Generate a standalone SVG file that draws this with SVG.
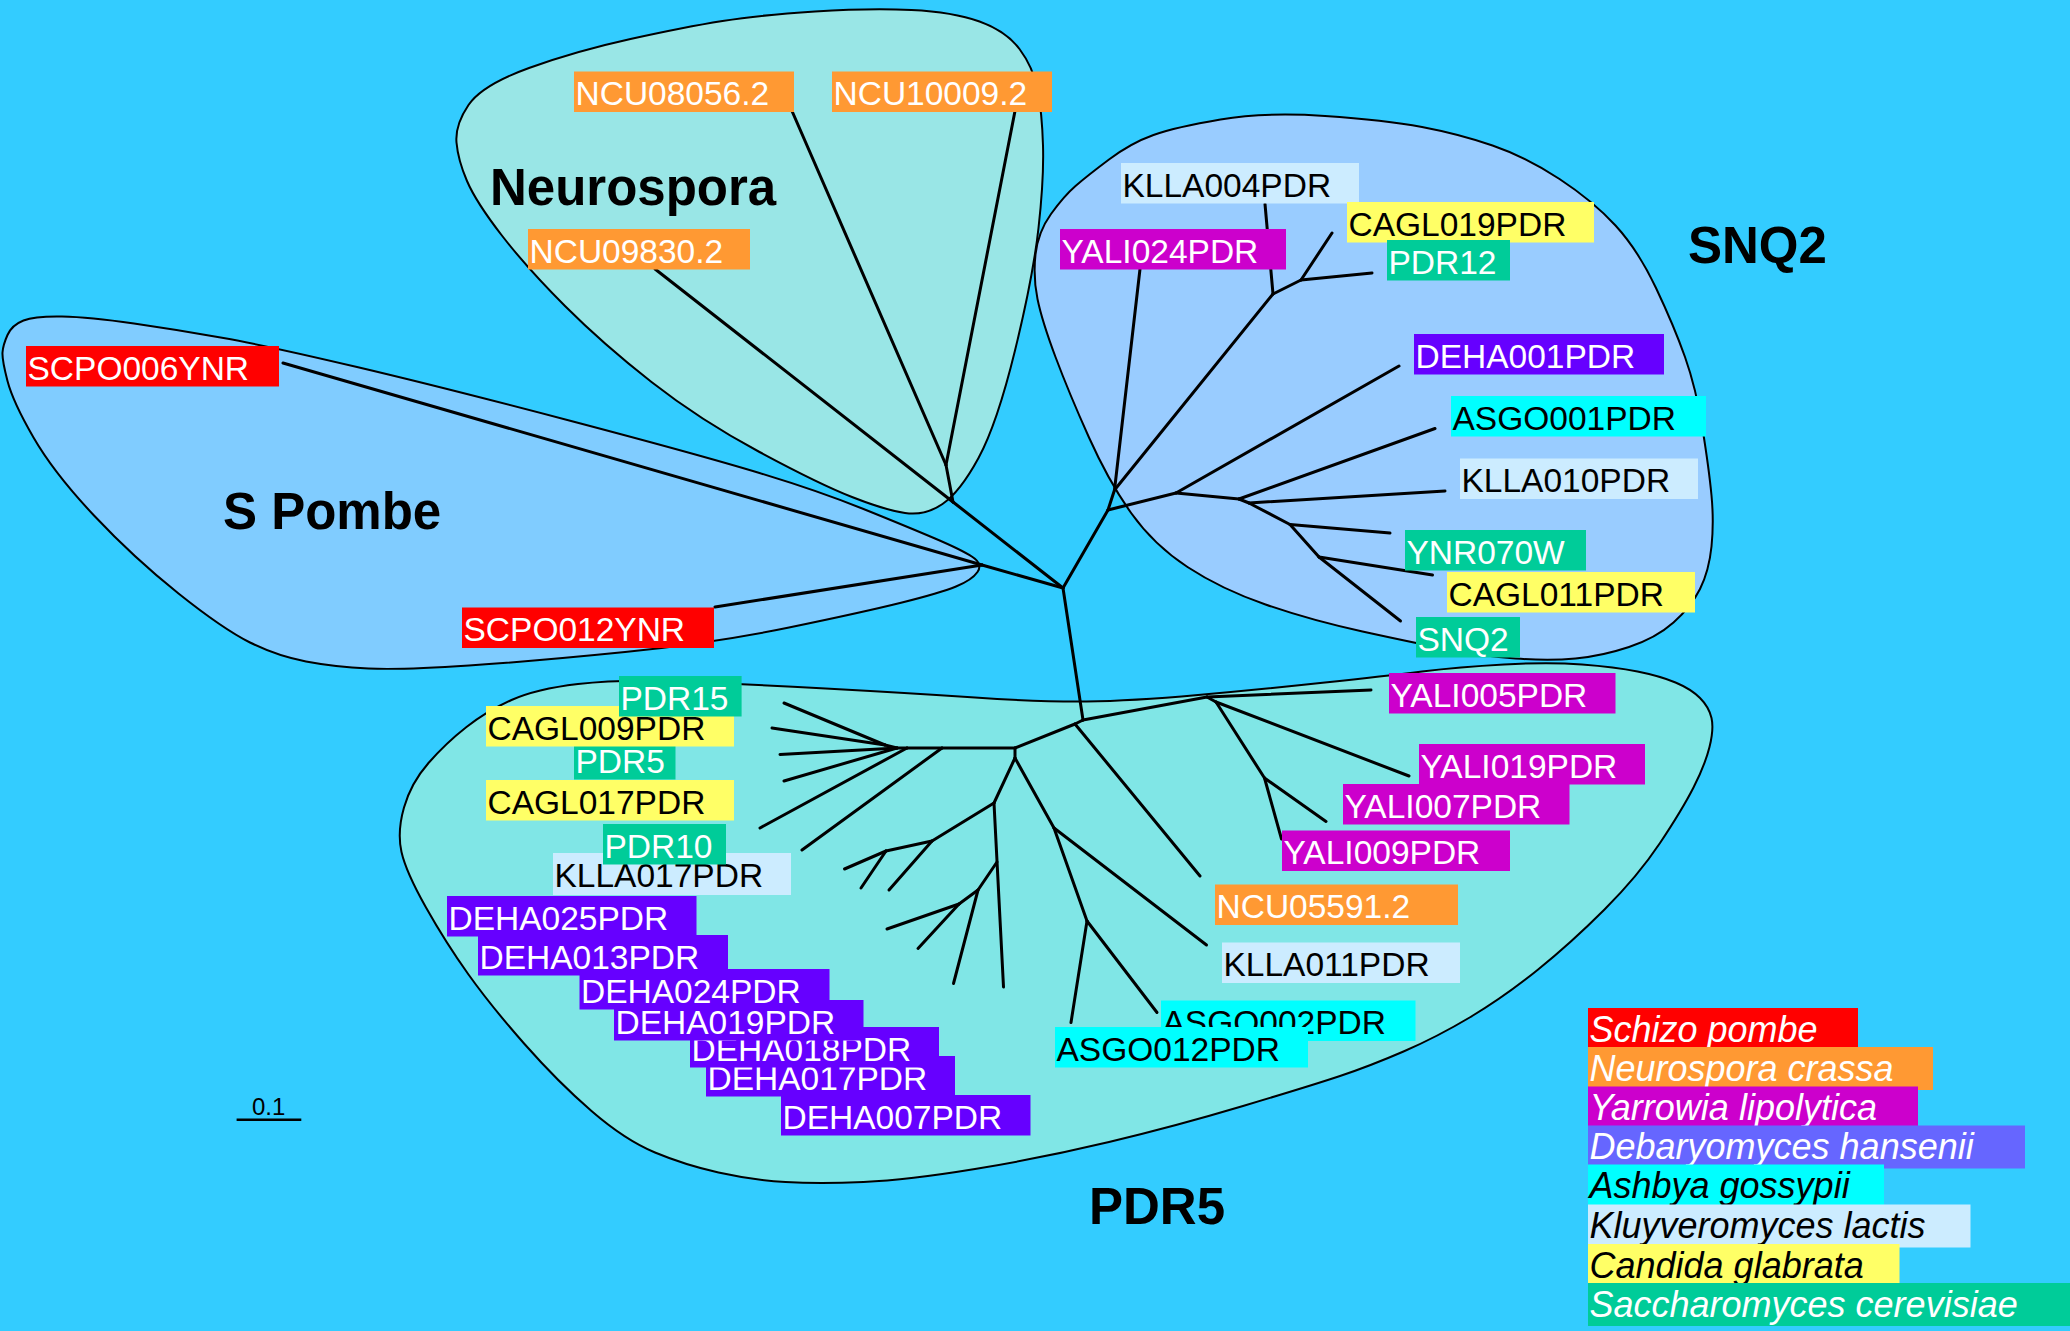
<svg xmlns="http://www.w3.org/2000/svg" width="2070" height="1331" viewBox="0 0 2070 1331">
<style>
.bub{stroke:#000;stroke-width:2}
.br{stroke:#000;stroke-width:3;stroke-linecap:round;fill:none}
text{font-family:"Liberation Sans",Arial,sans-serif}
.lt{font-size:33.5px}
.w{fill:#fff}
.k{fill:#000}
.grp{font-weight:bold;font-size:51px;fill:#000}
.leg{font-style:italic;font-size:36px}
.red{fill:#FF0000}.org{fill:#FF9933}.mag{fill:#CC00CC}.pur{fill:#6600FF}.cyn{fill:#00FFFF}.lig{fill:#CCECFF}.yel{fill:#FFFF66}.grn{fill:#00CC99}.deb{fill:#6666FF}
</style>
<rect x="0" y="0" width="2070" height="1331" fill="#33CCFF"/>
<g id="bubbles">
<path id="bubble-neurospora" class="bub" fill="#99E6E6" d="M 456.5,142.5 Q 458,160 467,181 Q 476,202 501.5,235 Q 527,268 565,306 Q 603,344 651.5,382 Q 700,420 759.5,452 Q 819,484 852,497 Q 885,510 905,513 Q 925,516 942.5,504 Q 960,492 978.5,458 Q 997,424 1015,350.5 Q 1033,277 1038.5,228 Q 1044,179 1043,145.5 Q 1042,112 1037.5,89.5 Q 1033,67 1019.5,49 Q 1006,31 979.5,21.5 Q 953,12 911.5,10 Q 870,8 815,11.5 Q 760,15 722.5,21 Q 685,27 630.5,39 Q 576,51 529,68 Q 482,85 468.5,105 Q 455,125 456.5,142.5 Z"/>
<path id="bubble-spombe" class="bub" fill="#80CCFF" d="M 7.5,335 Q 12,325 23.5,320.5 Q 35,316 62,316.5 Q 89,317 134,323.5 Q 179,330 223.5,338 Q 268,346 357,367 Q 446,388 573,421.5 Q 700,455 759.5,473 Q 819,491 863.5,509 Q 908,527 935,538.5 Q 962,550 972.5,557 Q 983,564 977.5,572 Q 972,580 956,586.5 Q 940,593 902,602.5 Q 864,612 789,627.5 Q 714,643 625,652 Q 536,661 469,665.5 Q 402,670 368.5,668.5 Q 335,667 306,661.5 Q 277,656 250,642.5 Q 223,629 178.5,593.5 Q 134,558 94,515.5 Q 54,473 33.5,437.5 Q 13,402 7.5,381 Q 2,360 2.5,352.5 Q 3,345 7.5,335 Z"/>
<path id="bubble-snq2" class="bub" fill="#99CCFF" d="M 1325,116 Q 1385,120 1422,127 Q 1459,134 1492.5,145.5 Q 1526,157 1559.5,179 Q 1593,201 1615.5,225.5 Q 1638,250 1656,288 Q 1674,326 1685,357 Q 1696,388 1702.5,428.5 Q 1709,469 1711.5,495.5 Q 1714,522 1711.5,546.5 Q 1709,571 1700,589 Q 1691,607 1673.5,622.5 Q 1656,638 1629,647 Q 1602,656 1575.5,658.5 Q 1549,661 1515.5,658.5 Q 1482,656 1448.5,649.5 Q 1415,643 1362.5,631.5 Q 1310,620 1265.5,604.5 Q 1221,589 1187.5,567 Q 1154,545 1131.5,513.5 Q 1109,482 1089,437.5 Q 1069,393 1055.5,357 Q 1042,321 1037.5,299 Q 1033,277 1035.5,254.5 Q 1038,232 1051,214 Q 1064,196 1075.5,186 Q 1087,176 1109,159.5 Q 1131,143 1153.5,135 Q 1176,127 1220.5,119.5 Q 1265,112 1325,116 Z"/>
<path id="bubble-pdr5" class="bub" fill="#80E6E6" d="M 681.5,681.5 Q 743,684 825.5,688.5 Q 908,693 975,697.5 Q 1042,702 1086.5,701.5 Q 1131,701 1198,695 Q 1265,689 1325,682.5 Q 1385,676 1422,671.5 Q 1459,667 1504,664.5 Q 1549,662 1582,664.5 Q 1615,667 1637.5,671.5 Q 1660,676 1675.5,682.5 Q 1691,689 1700,698 Q 1709,707 1711.5,718 Q 1714,729 1709.5,747 Q 1705,765 1693.5,787.5 Q 1682,810 1660,843 Q 1638,876 1604.5,909.5 Q 1571,943 1537.5,970 Q 1504,997 1470.5,1017 Q 1437,1037 1403.5,1051.5 Q 1370,1066 1340,1076 Q 1310,1086 1243,1106 Q 1176,1126 1109,1142 Q 1042,1158 975,1169 Q 908,1180 863.5,1182 Q 819,1184 785.5,1182 Q 752,1180 718.5,1172.5 Q 685,1165 655,1152.5 Q 625,1140 591.5,1111 Q 558,1082 524.5,1044 Q 491,1006 468.5,974.5 Q 446,943 426,907.5 Q 406,872 401.5,852 Q 397,832 404,807.5 Q 411,783 428.5,763 Q 446,743 466.5,727 Q 487,711 511.5,700 Q 536,689 578,684 Q 620,679 681.5,681.5 Z"/>
</g>
<g id="group-labels">
<text class="grp" x="490" y="204.5">Neurospora</text>
<text class="grp" x="223" y="529">S Pombe</text>
<text class="grp" x="1688" y="263">SNQ2</text>
<text class="grp" x="1089" y="1224">PDR5</text>
</g>
<g id="connectors" class="br">
<line x1="1063" y1="588" x2="953" y2="502"/>
<line x1="953" y1="502" x2="946" y2="465"/>
<line x1="946" y1="465" x2="792" y2="111"/>
<line x1="946" y1="465" x2="1015" y2="111"/>
<line x1="953" y1="502" x2="655" y2="269"/>
<line x1="1063" y1="588" x2="982" y2="565"/>
<line x1="982" y1="565" x2="283" y2="363"/>
<line x1="982" y1="565" x2="715" y2="607"/>
<line x1="1063" y1="588" x2="1108" y2="510"/>
<line x1="1108" y1="510" x2="1114.5" y2="490"/>
<line x1="1114.5" y1="490" x2="1140" y2="269"/>
<line x1="1114.5" y1="490" x2="1273" y2="294"/>
<line x1="1273" y1="294" x2="1265" y2="204"/>
<line x1="1273" y1="294" x2="1301" y2="280"/>
<line x1="1301" y1="280" x2="1332" y2="233"/>
<line x1="1301" y1="280" x2="1372" y2="273"/>
<line x1="1108" y1="510" x2="1176" y2="493"/>
<line x1="1176" y1="493" x2="1399" y2="366"/>
<line x1="1176" y1="493" x2="1239" y2="499"/>
<line x1="1239" y1="499" x2="1435" y2="428.5"/>
<line x1="1239" y1="499" x2="1249" y2="503"/>
<line x1="1249" y1="503" x2="1445" y2="491"/>
<line x1="1249" y1="503" x2="1290" y2="524.5"/>
<line x1="1290" y1="524.5" x2="1390" y2="533"/>
<line x1="1290" y1="524.5" x2="1319" y2="557"/>
<line x1="1319" y1="557" x2="1432.5" y2="575"/>
<line x1="1319" y1="557" x2="1400.5" y2="621"/>
<line x1="1063" y1="588" x2="1083" y2="720"/>
<line x1="1083" y1="720" x2="1207" y2="697"/>
<line x1="1207" y1="697" x2="1371" y2="690"/>
<line x1="1207" y1="697" x2="1216" y2="702"/>
<line x1="1216" y1="702" x2="1409" y2="776"/>
<line x1="1216" y1="702" x2="1264.5" y2="778"/>
<line x1="1264.5" y1="778" x2="1326" y2="821.5"/>
<line x1="1264.5" y1="778" x2="1281.5" y2="839"/>
<line x1="1083" y1="720" x2="1075" y2="724"/>
<line x1="1075" y1="724" x2="1200" y2="876"/>
<line x1="1075" y1="724" x2="1015" y2="748"/>
<line x1="1015" y1="748" x2="942" y2="748"/>
<line x1="942" y1="748" x2="802" y2="850"/>
<line x1="942" y1="748" x2="907" y2="748"/>
<line x1="907" y1="748" x2="760" y2="828"/>
<line x1="907" y1="748" x2="897" y2="748"/>
<line x1="897" y1="748" x2="780" y2="754.5"/>
<line x1="897" y1="748" x2="784" y2="781"/>
<line x1="897" y1="748" x2="885" y2="745"/>
<line x1="885" y1="745" x2="784" y2="703"/>
<line x1="885" y1="745" x2="772" y2="728"/>
<line x1="1015" y1="748" x2="1015" y2="758"/>
<line x1="1015" y1="758" x2="994" y2="803"/>
<line x1="994" y1="803" x2="1003.5" y2="987"/>
<line x1="997" y1="862" x2="978" y2="890"/>
<line x1="978" y1="890" x2="953.5" y2="983.5"/>
<line x1="978" y1="890" x2="959" y2="904"/>
<line x1="959" y1="904" x2="887" y2="929"/>
<line x1="959" y1="904" x2="918" y2="948.5"/>
<line x1="994" y1="803" x2="932" y2="841"/>
<line x1="932" y1="841" x2="889" y2="890"/>
<line x1="932" y1="841" x2="886" y2="851"/>
<line x1="886" y1="851" x2="844.5" y2="869"/>
<line x1="886" y1="851" x2="861" y2="888"/>
<line x1="1015" y1="758" x2="1054" y2="828"/>
<line x1="1054" y1="828" x2="1206.5" y2="945"/>
<line x1="1054" y1="828" x2="1087" y2="921"/>
<line x1="1087" y1="921" x2="1071" y2="1022.5"/>
<line x1="1087" y1="921" x2="1157" y2="1012.5"/>
</g>
<g id="SCPO006YNR"><rect class="red" x="26" y="346" width="253" height="40.5"/><text class="lt w" x="27.5" y="379.5">SCPO006YNR</text></g>
<g id="SCPO012YNR"><rect class="red" x="462" y="607.5" width="252" height="40.5"/><text class="lt w" x="463.5" y="641">SCPO012YNR</text></g>
<g id="NCU08056.2"><rect class="org" x="574" y="71.5" width="220" height="40.5"/><text class="lt w" x="575.5" y="105">NCU08056.2</text></g>
<g id="NCU10009.2"><rect class="org" x="832" y="71.5" width="220" height="40.5"/><text class="lt w" x="833.5" y="105">NCU10009.2</text></g>
<g id="NCU09830.2"><rect class="org" x="528" y="229" width="222" height="40.5"/><text class="lt w" x="529.5" y="262.5">NCU09830.2</text></g>
<g id="KLLA004PDR"><rect class="lig" x="1121" y="163" width="238" height="40.5"/><text class="lt k" x="1122.5" y="196.5">KLLA004PDR</text></g>
<g id="YALI024PDR"><rect class="mag" x="1060" y="229" width="226" height="40.5"/><text class="lt w" x="1061.5" y="262.5">YALI024PDR</text></g>
<g id="CAGL019PDR"><rect class="yel" x="1347" y="202" width="247" height="40.5"/><text class="lt k" x="1348.5" y="235.5">CAGL019PDR</text></g>
<g id="PDR12"><rect class="grn" x="1387" y="240" width="123" height="40.5"/><text class="lt w" x="1388.5" y="273.5">PDR12</text></g>
<g id="DEHA001PDR"><rect class="pur" x="1414" y="334" width="250" height="40.5"/><text class="lt w" x="1415.5" y="367.5">DEHA001PDR</text></g>
<g id="ASGO001PDR"><rect class="cyn" x="1451" y="396" width="255" height="40.5"/><text class="lt k" x="1452.5" y="429.5">ASGO001PDR</text></g>
<g id="KLLA010PDR"><rect class="lig" x="1460" y="458.5" width="238" height="40.5"/><text class="lt k" x="1461.5" y="492">KLLA010PDR</text></g>
<g id="YNR070W"><rect class="grn" x="1405" y="530" width="181" height="40.5"/><text class="lt w" x="1406.5" y="563.5">YNR070W</text></g>
<g id="CAGL011PDR"><rect class="yel" x="1447" y="572" width="248" height="40.5"/><text class="lt k" x="1448.5" y="605.5">CAGL011PDR</text></g>
<g id="SNQ2"><rect class="grn" x="1416" y="617" width="104" height="40.5"/><text class="lt w" x="1417.5" y="650.5">SNQ2</text></g>
<g id="YALI005PDR"><rect class="mag" x="1389" y="673" width="226.5" height="40.5"/><text class="lt w" x="1390.5" y="706.5">YALI005PDR</text></g>
<g id="YALI019PDR"><rect class="mag" x="1419" y="744" width="226" height="40.5"/><text class="lt w" x="1420.5" y="777.5">YALI019PDR</text></g>
<g id="YALI007PDR"><rect class="mag" x="1343" y="784" width="226.5" height="40.5"/><text class="lt w" x="1344.5" y="817.5">YALI007PDR</text></g>
<g id="YALI009PDR"><rect class="mag" x="1282" y="830.5" width="228" height="40.5"/><text class="lt w" x="1283.5" y="864">YALI009PDR</text></g>
<g id="NCU05591.2"><rect class="org" x="1215" y="884.5" width="243" height="40.5"/><text class="lt w" x="1216.5" y="918">NCU05591.2</text></g>
<g id="KLLA011PDR"><rect class="lig" x="1222" y="942.5" width="238" height="40.5"/><text class="lt k" x="1223.5" y="976">KLLA011PDR</text></g>
<g id="ASGO002PDR"><rect class="cyn" x="1161" y="1000.5" width="254.5" height="40.5"/><text class="lt k" x="1162.5" y="1034">ASGO002PDR</text></g>
<g id="ASGO012PDR"><rect class="cyn" x="1055" y="1027" width="253" height="40.5"/><text class="lt k" x="1056.5" y="1060.5">ASGO012PDR</text></g>
<g id="DEHA007PDR"><rect class="pur" x="781" y="1095" width="249.5" height="40.5"/><text class="lt w" x="782.5" y="1128.5">DEHA007PDR</text></g>
<g id="DEHA017PDR"><rect class="pur" x="706" y="1056" width="249" height="40.5"/><text class="lt w" x="707.5" y="1089.5">DEHA017PDR</text></g>
<g id="DEHA018PDR"><rect class="pur" x="690" y="1027" width="249" height="40.5"/><text class="lt w" x="691.5" y="1060.5">DEHA018PDR</text></g>
<g id="DEHA019PDR"><rect class="pur" x="614" y="1000" width="249.5" height="40.5"/><text class="lt w" x="615.5" y="1033.5">DEHA019PDR</text></g>
<g id="DEHA024PDR"><rect class="pur" x="579.5" y="969" width="250" height="40.5"/><text class="lt w" x="581" y="1002.5">DEHA024PDR</text></g>
<g id="DEHA013PDR"><rect class="pur" x="478" y="935" width="250" height="40.5"/><text class="lt w" x="479.5" y="968.5">DEHA013PDR</text></g>
<g id="DEHA025PDR"><rect class="pur" x="447" y="896" width="249.5" height="40.5"/><text class="lt w" x="448.5" y="929.5">DEHA025PDR</text></g>
<g id="KLLA017PDR"><rect class="lig" x="553" y="853" width="238" height="42"/><text class="lt k" x="554.5" y="886.5">KLLA017PDR</text></g>
<g id="PDR10"><rect class="grn" x="603" y="824" width="123" height="40.5"/><text class="lt w" x="604.5" y="857.5">PDR10</text></g>
<g id="CAGL017PDR"><rect class="yel" x="486" y="780" width="248" height="40.5"/><text class="lt k" x="487.5" y="813.5">CAGL017PDR</text></g>
<g id="PDR5"><rect class="grn" x="574" y="739" width="101.5" height="40.5"/><text class="lt w" x="575.5" y="772.5">PDR5</text></g>
<g id="CAGL009PDR"><rect class="yel" x="486" y="706" width="248" height="40.5"/><text class="lt k" x="487.5" y="739.5">CAGL009PDR</text></g>
<g id="PDR15"><rect class="grn" x="619" y="676" width="122.6" height="40.5"/><text class="lt w" x="620.5" y="709.5">PDR15</text></g>
<g id="scale-bar">
<line x1="236.6" y1="1119.8" x2="301.3" y2="1119.8" stroke="#000" stroke-width="2.5"/>
<text x="252" y="1114.5" font-size="24" fill="#000">0.1</text>
</g>
<g id="legend">
<rect class="red" x="1588" y="1008" width="270" height="43"/><text class="leg w" x="1589.5" y="1041.5">Schizo pombe</text>
<rect class="org" x="1588" y="1047" width="345" height="43"/><text class="leg w" x="1589.5" y="1080.5">Neurospora crassa</text>
<rect class="mag" x="1588" y="1086.5" width="330" height="43"/><text class="leg w" x="1589.5" y="1120">Yarrowia lipolytica</text>
<rect class="deb" x="1588" y="1125.5" width="437" height="43"/><text class="leg w" x="1589.5" y="1159">Debaryomyces hansenii</text>
<rect class="cyn" x="1588" y="1164.5" width="296" height="43"/><text class="leg k" x="1589.5" y="1198">Ashbya gossypii</text>
<rect class="lig" x="1588" y="1204.5" width="382.5" height="43"/><text class="leg k" x="1589.5" y="1238">Kluyveromyces lactis</text>
<rect class="yel" x="1588" y="1244" width="311.5" height="43"/><text class="leg k" x="1589.5" y="1277.5">Candida glabrata</text>
<rect class="grn" x="1588" y="1283" width="482" height="43"/><text class="leg w" x="1589.5" y="1316.5">Saccharomyces cerevisiae</text>
</g>
</svg>
